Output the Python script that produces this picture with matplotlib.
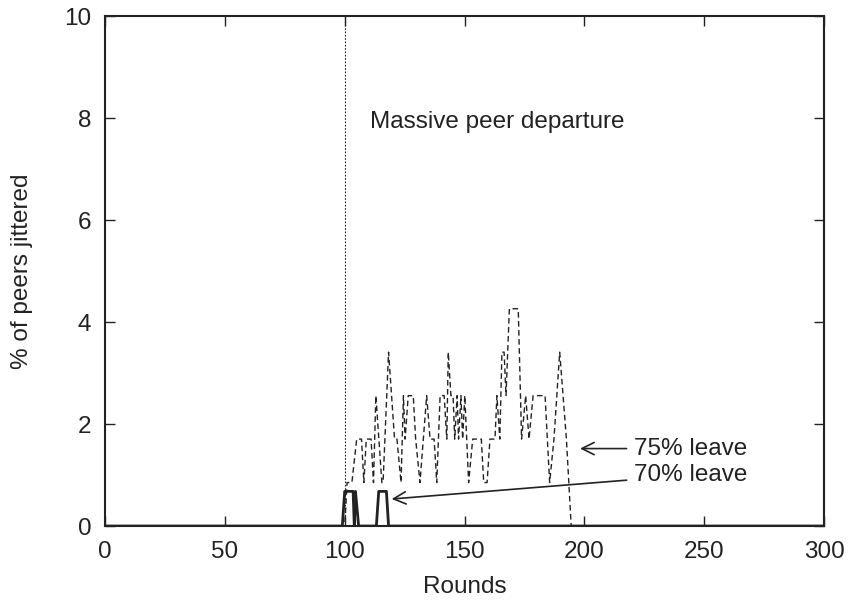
"""Jitter after a massive peer departure (gnuplot-style reproduction)."""
import matplotlib
matplotlib.use("Agg")
import matplotlib.pyplot as plt

plt.rcParams["font.family"] = ["Liberation Sans", "DejaVu Sans"]

# one dashed "step" in the 75% curve is one peer out of ~117
STEP = 0.853

# 75% leave (dashed): round, number of steps
rounds_75 = [0, 100, 101, 103, 105, 107, 108, 109, 111, 112, 113, 115.5, 116,
             118.3, 120.8, 121.8, 123.5, 124.5, 125.2, 126.5, 128.6, 129.6,
             131.4, 134.2, 135.6, 137.3, 138.4, 139.8, 141.5, 142.6, 143.2,
             144.3, 145.2, 145.9, 146.9, 147.5, 148.5, 149.2, 150.1, 151.7,
             153.4, 157, 158, 159.4, 160.6, 162.7, 163.5, 164.7, 165.6, 166.5,
             167.3, 168.7, 172.4, 173.8, 175.5, 176.9, 178.6, 183.6, 185.5,
             187.3, 189.7, 192.5, 194.5, 300]
steps_75 = [0, 0, 1, 1, 2, 2, 1, 2, 2, 1, 3, 1, 1,
            4, 2, 2, 1, 3, 2, 3, 3, 2,
            1, 3, 2, 2, 1, 3, 3, 2, 4,
            3, 3, 2, 3, 2, 3, 2, 3, 1,
            2, 2, 1, 1, 2, 2, 3, 2, 4, 4,
            3, 5, 5, 2, 3, 2, 3, 3, 1,
            2, 4, 2, 0, 0]
pct_75 = [s * STEP for s in steps_75]

# 70% leave (solid)
rounds_70 = [0, 99, 100, 103.5, 104, 104.5, 105.8, 113.2, 114.2, 117.4, 118.3, 300]
pct_70 = [0, 0, 0.68, 0.68, 0, 0.68, 0, 0, 0.68, 0.68, 0, 0]

DEPARTURE = 100
INK = "#222222"
FS = 17.5

fig = plt.figure(figsize=(8.56, 6.04), dpi=100)
ax = fig.add_axes([0.1227, 0.1291, 0.84, 0.8436])

ax.plot(rounds_75, pct_75, color=INK, lw=1.0, linestyle=(0, (4, 2.5)))
ax.plot(rounds_70, pct_70, color=INK, lw=2.0)
ax.axvline(DEPARTURE, color=INK, lw=0.8, linestyle=(0, (1.5, 1.5)))

ax.set_xlim(0, 300)
ax.set_ylim(0, 10)
ax.set_xticks(range(0, 301, 50))
ax.set_yticks(range(0, 11, 2))
ax.tick_params(direction="in", length=7, width=1, top=True, right=True,
               labelsize=FS, colors=INK)
ax.tick_params(axis="x", pad=11)
ax.tick_params(axis="y", pad=10)
for sp in ax.spines.values():
    sp.set_linewidth(1.5)
    sp.set_color(INK)

ax.set_xlabel("Rounds", fontsize=FS, color=INK, labelpad=9)
ax.set_ylabel("% of peers jittered", fontsize=FS, color=INK, labelpad=22)

ax.text(110.6, 7.92, "Massive peer departure", fontsize=FS, color=INK,
        ha="left", va="center")

ax.annotate("75% leave", xy=(198.2, 1.52), xytext=(220.5, 1.52),
            fontsize=FS, color=INK, va="center", ha="left",
            arrowprops=dict(arrowstyle="->", color=INK, lw=1.2,
                            mutation_scale=22, shrinkA=3, shrinkB=0))
ax.annotate("70% leave", xy=(119.6, 0.53), xytext=(220.5, 1.0),
            fontsize=FS, color=INK, va="center", ha="left",
            arrowprops=dict(arrowstyle="->", color=INK, lw=1.2,
                            mutation_scale=22, shrinkA=3, shrinkB=0))

fig.savefig("out.png", dpi=100)
plt.close(fig)
